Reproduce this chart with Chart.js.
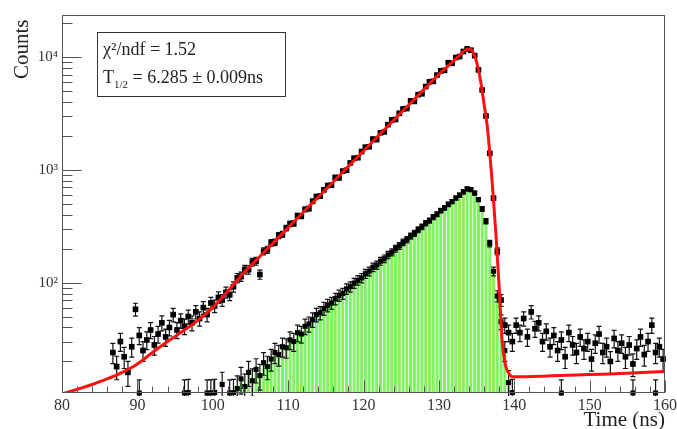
<!DOCTYPE html>
<html>
<head>
<meta charset="utf-8">
<script src="https://cdn.jsdelivr.net/npm/chart.js@4.4.0/dist/chart.umd.min.js"></script>
<style>
  html, body { margin: 0; padding: 0; background: #fff; }
  #wrap { position: relative; width: 677px; height: 429px; }
  #stats {
    position: absolute; left: 97px; top: 32px; width: 187px; height: 63px;
    border: 1px solid #333; background: #fff;
    font-family: 'Liberation Serif', serif; font-size: 18px; color: #222;
  }
  #stats div { position: absolute; left: 5px; white-space: nowrap; }
  #stats sub { font-size: 11px; }
  #ytitle {
    position: absolute; left: 10px; top: 79px;
    transform-origin: 0 0; transform: rotate(-90deg);
    white-space: nowrap;
    font-family: 'Liberation Serif', serif; font-size: 21px; line-height: 22px; color: #222;
  }
</style>
</head>
<body>
<div id="wrap">
  <canvas id="decayChart" width="677" height="429"></canvas>
  <div id="ytitle">Counts</div>
  <div id="stats">
    <div style="top:6px">χ²/ndf = 1.52</div>
    <div style="top:34px">T<sub>1/2</sub> = 6.285 ± 0.009ns</div>
  </div>
</div>
<script>
// histogram binning (0.5 ns bins, first bin centre 80.25 ns)
const BIN_START = 80.25;
const BIN_WIDTH = 0.5;

// all events
const totalCounts = [
    null, null, null, null, null, null, null, null, null, null, null, null, null,
    24, 18, 30, 22, 16, 27, 58, 34, 25, 31, 38, 28, 35, 44, 33, 40, 52,
    38, 46, 41, 50, 44, 55, 48, 60, 52, 66, 62, 74, 70, 82, 78, 92, 110, 113, 131, 130,
    152, 155, 118, 190, 196, 226, 228, 262, 268, 305,
    332, 335, 392, 388, 446, 453, 526, 580, 585, 665,
    726, 732, 858, 848, 974, 992, 1151, 1268, 1280, 1455,
    1589, 1602, 1875, 1854, 2130, 2167, 2513, 2770, 2795, 3175,
    3466, 3495, 4090, 4042, 4642, 4723, 5478, 6036, 6091, 6920,
    7552, 7615, 8910, 8807, 9900, 10100, 11200, 11800, 11500, 10300,
    7700, 5100, 3000, 1400, 560, 190, 70, 42, 36, 30,
    42, 36, 48, 33, 55, 39, 44, 30, 37, 27,
    34, 25, 31, 22, 36, 28, 24, 33, 26, 30,
    21, 29, 35, 24, 27, 20, 32, 25, 29, 22,
    28, 19, 26, 33, 23, 30, 42, 24, 27, 21
];

// gated events (green histogram)
const gatedCounts = [
    null, null, null, null, null, null, null, null, null, null,
    null, null, null, null, null, null, null, null, null, null,
    10.5, null, null, null, null, null, null, null, null, null,
    null, null, 10.5, 10.6, null, null, null, null, 10.5, 10.5,
    10.6, null, 12.5, null, 10.5, 10.6, 11.5, 14, 12, 16,
    13.5, 17, 15, 19.5, 18, 21, 24, 23, 27, 26.5,
    31, 30, 36, 35, 41, 43, 47, 52, 54, 59,
    63, 66, 72, 77, 80, 88, 92, 99, 105, 110,
    120, 126, 137, 143, 155, 163, 176, 186, 200, 212,
    228, 240, 259, 274, 295, 312, 336, 355, 382, 404,
    435, 460, 494, 523, 562, 596, 638, 678, 668, 622,
    545, 450, 350, 222, 126, 76, 45, 25, 13, 10.6,
    null, null, null, null, null, null, null, null, null, null,
    null, null, 10.5, null, null, null, null, null, null, null,
    null, null, null, null, null, null, null, null, null, null,
    null, 10.5, null, null, null, null, null, 10.5, null, null
];
const gatedFillFrom = 103.5;
const gatedFillTo = 139.5;

// fit curve
const fitTimes = [80, 82, 84, 86, 88, 90, 92, 94, 96, 98, 100, 102, 104, 106, 108, 110,
    112, 114, 116, 118, 120, 122, 124, 126, 128, 130, 132, 133, 133.5, 134,
    134.4, 134.8, 135.2, 135.6, 136, 136.4, 136.8, 137.2, 137.6, 138, 138.4,
    138.8, 139.2, 139.6, 140, 145, 150, 155, 160];
const fitValues = [10.3, 11.3, 12.5, 14, 16, 19, 24, 30, 37, 46, 60, 84, 120, 164, 224, 307,
    420, 574, 785, 1074, 1469, 2009, 2748, 3758, 5140, 7031, 9300, 10800, 11500, 11800,
    11400, 10000, 8000, 5800, 3800, 2500, 1300, 600, 250, 90, 30,
    19, 16, 14.8, 14.6, 14.9, 15.3, 15.7, 16.3];

// axis ticks
const xMajorTicks = [80, 90, 100, 110, 120, 130, 140, 150, 160];
const xMinorTicks = [82, 84, 86, 88, 92, 94, 96, 98, 102, 104, 106, 108, 112, 114, 116, 118,
    122, 124, 126, 128, 132, 134, 136, 138, 142, 144, 146, 148, 152, 154, 156, 158];
const yMajorTicks = [100, 1000, 10000];
const yMinorTicks = [20, 30, 40, 50, 60, 70, 80, 90, 200, 300, 400, 500, 600, 700, 800, 900,
    2000, 3000, 4000, 5000, 6000, 7000, 8000, 9000, 20000];
const yTickLabels = { 100: '10²', 1000: '10³', 10000: '10⁴' };

const binTimes = totalCounts.map((_, i) => BIN_START + i * BIN_WIDTH);

function toPoints(values) {
    const pts = [];
    values.forEach((v, i) => {
        if (v !== null) pts.push({ x: binTimes[i], y: v });
    });
    return pts;
}

const fillPoints = toPoints(gatedCounts).filter(p => p.x > gatedFillFrom - BIN_WIDTH && p.x < gatedFillTo);

// Poisson error bars under each marker set
const errorBars = {
    id: 'errorBars',
    beforeDatasetDraw(chart, args) {
        const ds = chart.data.datasets[args.index];
        if (!ds.errorBars) return;
        const { ctx, chartArea } = chart;
        const yScale = chart.scales.y;
        const xScale = chart.scales.x;
        ctx.save();
        ctx.beginPath();
        ctx.rect(chartArea.left, chartArea.top, chartArea.right - chartArea.left, chartArea.bottom - chartArea.top + 3);
        ctx.clip();
        ctx.strokeStyle = '#111';
        ctx.lineWidth = 1.2;
        ds.data.forEach(p => {
            const err = Math.sqrt(p.y);
            const px = xScale.getPixelForValue(p.x);
            const top = yScale.getPixelForValue(p.y + err);
            const bot = yScale.getPixelForValue(Math.max(p.y - err, 1));
            ctx.beginPath();
            ctx.moveTo(px, top); ctx.lineTo(px, bot);
            ctx.moveTo(px - 2.5, top); ctx.lineTo(px + 2.5, top);
            ctx.moveTo(px - 2.5, bot); ctx.lineTo(px + 2.5, bot);
            ctx.stroke();
        });
        ctx.restore();
    }
};

// frame and inward ticks
const frameTicks = {
    id: 'frameTicks',
    afterDatasetsDraw(chart) {
        const { ctx, chartArea } = chart;
        const xs = chart.scales.x;
        const ys = chart.scales.y;
        ctx.save();
        ctx.strokeStyle = '#555';
        ctx.lineWidth = 1;
        ctx.strokeRect(chartArea.left + 0.5, chartArea.top + 0.5,
            chartArea.right - chartArea.left - 1, chartArea.bottom - chartArea.top - 1);
        ctx.beginPath();
        const b = chartArea.bottom - 0.5;
        const l = chartArea.left + 0.5;
        xMajorTicks.forEach(v => { const p = Math.round(xs.getPixelForValue(v)) + 0.5; ctx.moveTo(p, b); ctx.lineTo(p, b - 12); });
        xMinorTicks.forEach(v => { const p = Math.round(xs.getPixelForValue(v)) + 0.5; ctx.moveTo(p, b); ctx.lineTo(p, b - 6); });
        yMajorTicks.forEach(v => { const p = Math.round(ys.getPixelForValue(v)) + 0.5; ctx.moveTo(l, p); ctx.lineTo(l + 19, p); });
        yMinorTicks.forEach(v => { const p = Math.round(ys.getPixelForValue(v)) + 0.5; ctx.moveTo(l, p); ctx.lineTo(l + 10, p); });
        ctx.stroke();
        ctx.restore();
    }
};

const serif = "'Liberation Serif', 'Times New Roman', serif";

new Chart(document.getElementById('decayChart'), {
    type: 'bar',
    data: {
        datasets: [
            {
                type: 'line',
                label: 'Fit',
                data: fitTimes.map((t, i) => ({ x: t, y: fitValues[i] })),
                borderColor: '#ff1010',
                borderWidth: 3,
                pointRadius: 0,
                cubicInterpolationMode: 'monotone',
                clip: 0,
                order: 0
            },
            {
                type: 'line',
                label: 'All',
                data: toPoints(totalCounts),
                showLine: false,
                pointStyle: 'rect',
                pointRadius: 4,
                backgroundColor: '#000',
                borderColor: '#000',
                borderWidth: 0,
                errorBars: true,
                clip: 3,
                order: 1
            },
            {
                type: 'line',
                label: 'Gated',
                data: toPoints(gatedCounts),
                showLine: false,
                pointStyle: 'rect',
                pointRadius: 3.6,
                backgroundColor: '#000',
                borderColor: '#000',
                borderWidth: 0,
                errorBars: true,
                clip: 3,
                order: 2
            },
            {
                type: 'bar',
                label: 'Gated fill',
                data: fillPoints,
                backgroundColor: '#84f066',
                borderWidth: 0,
                barPercentage: 0.8,
                categoryPercentage: 1.0,
                clip: 0,
                order: 3
            }
        ]
    },
    options: {
        responsive: false,
        animation: false,
        layout: { padding: { top: 15, right: 12, left: 0, bottom: 0 } },
        plugins: {
            legend: { display: false },
            tooltip: { enabled: false }
        },
        scales: {
            x: {
                type: 'linear',
                min: 80,
                max: 160,
                offset: false,
                grid: { display: false, drawTicks: false, offset: false },
                border: { display: false },
                afterBuildTicks: s => { s.ticks = xMajorTicks.map(v => ({ value: v })); },
                afterFit: s => { s.height = 36; s.paddingLeft = 0; s.paddingRight = 0; },
                ticks: {
                    autoSkip: false, maxRotation: 0, minRotation: 0, padding: 3,
                    color: '#333',
                    font: { family: serif, size: 16 }
                },
                title: {
                    display: true, text: 'Time (ns)', align: 'end', color: '#222',
                    font: { family: serif, size: 21, lineHeight: 0.8 },
                    padding: { top: 0, bottom: 0 }
                }
            },
            y: {
                type: 'logarithmic',
                min: 10.5,
                max: 23600,
                grid: { display: false, drawTicks: false },
                border: { display: false },
                afterBuildTicks: s => { s.ticks = yMajorTicks.map(v => ({ value: v })); },
                afterFit: s => { s.width = 62; },
                ticks: {
                    padding: 4, color: '#333',
                    font: { family: serif, size: 15 },
                    callback: v => yTickLabels[v] || ''
                },
                title: { display: false }
            }
        }
    },
    plugins: [errorBars, frameTicks]
});
</script>
</body>
</html>
